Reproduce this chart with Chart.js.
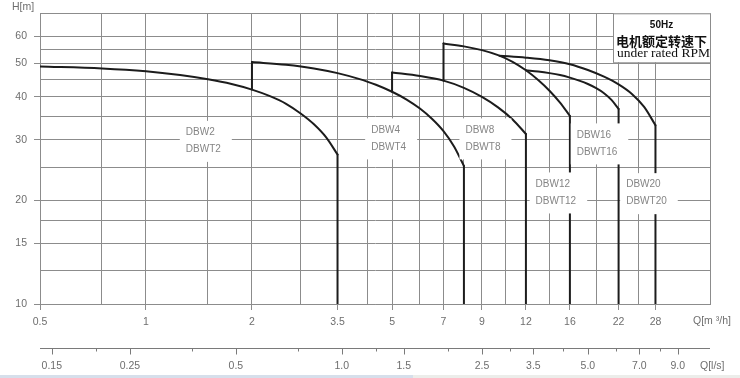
<!DOCTYPE html>
<html>
<head>
<meta charset="utf-8">
<script src="https://cdn.jsdelivr.net/npm/chart.js@4.4.0/dist/chart.umd.min.js"></script>
<style>
  html, body { margin: 0; padding: 0; background: #fff; }
  #wrap { width: 740px; height: 378px; }
</style>
</head>
<body>
<div id="wrap"><canvas id="chart" width="740" height="378"></canvas></div>
<script>
// axis values, Q in m3/h and H in m
const gridQ = [0.5, 0.75, 1, 1.5, 2, 2.75, 3.5, 4.25, 5, 6, 7, 8, 9, 10.5, 12, 14, 16, 19, 22, 25, 28, 40];
const labelQ = [0.5, 1, 2, 3.5, 5, 7, 9, 12, 16, 22, 28];
const gridH = [10, 12.5, 15, 17.5, 20, 25, 30, 35, 40, 45, 50, 55, 60, 70];
const labelH = [10, 15, 20, 30, 40, 50, 60];

// second flow axis in l/s
const lpsMajor = [0.15, 0.25, 0.5, 1.0, 1.5, 2.5, 3.5, 5.0, 7.0, 9.0];
const lpsMinor = [0.2, 0.375, 0.75, 1.25, 2.0, 3.0, 4.25, 6.0, 8.0];
const lpsToM3h = 3.6;

// pump curves
const dbw2Q = [0.5, 0.75, 1, 1.25, 1.5, 1.75, 2, 2.25, 2.5, 2.75, 3, 3.25, 3.5];
const dbw2H = [49, 48.4, 47.5, 46.3, 45, 43.6, 42, 40.2, 38.2, 35.8, 33.3, 30.5, 27.2];
const dbw4Q = [2, 2.5, 3, 3.5, 4, 4.5, 5, 5.5, 6, 6.5, 7, 7.5, 8];
const dbw4H = [50.5, 49.6, 48.4, 46.9, 45.2, 43.4, 41.4, 39.3, 37, 34.5, 31.8, 28.7, 25.2];
const dbw8Q = [5, 6, 7, 8, 9, 10, 11, 12];
const dbw8H = [47.1, 46, 44.6, 42.5, 40, 37.3, 34.4, 31.2];
const dbw12Q = [7, 8, 9, 10, 11, 12, 13, 14, 15, 16];
const dbw12H = [57.2, 56.1, 54.7, 52.9, 50.6, 47.8, 44.8, 41.7, 38.5, 35.2];
const dbw16Q = [12, 13, 14, 15, 16, 17, 18, 19, 20, 21, 22];
const dbw16H = [47.8, 47.4, 46.9, 46.3, 45.5, 44.6, 43.6, 42.4, 41, 39.2, 36.9];
const dbw20Q = [10.1, 12, 14, 16, 18, 20, 22, 24, 26, 28];
const dbw20H = [52.7, 52, 51.1, 49.8, 47.9, 45.8, 43.5, 40.8, 37.4, 33.1];

const models = ['DBW2', 'DBW4', 'DBW8', 'DBW12', 'DBW16', 'DBW20'];
const modelsT = ['DBWT2', 'DBWT4', 'DBWT8', 'DBWT12', 'DBWT16', 'DBWT20'];
const curveQ = [dbw2Q, dbw4Q, dbw8Q, dbw12Q, dbw16Q, dbw20Q];
const curveH = [dbw2H, dbw4H, dbw8H, dbw12H, dbw16H, dbw20H];
// H on the previous curve where the start riser begins
const riserBaseH = [null, 42, 41.4, 44.6, null, null];
const hMin = 10;

// where the model names sit (data units)
const tagQ = [1.455, 4.89, 9.06, 14.6, 19.1, 26.4];
const tagH = [29.8, 30.3, 30.3, 21.1, 29.3, 21.0];

const gridColor = '#8c8c8c';
const tickText = '#6e6e6e';
const curveColor = '#1c1c1c';
const tickFont = { family: 'Liberation Sans', size: 10.5 };

const datasets = [];
curveQ.forEach((qs, i) => {
  const hs = curveH[i];
  const last = qs.length - 1;
  datasets.push({
    data: qs.map((q, k) => ({ x: q, y: hs[k] })),
    cubicInterpolationMode: 'monotone'
  });
  if (riserBaseH[i] !== null) {
    datasets.push({ data: [{ x: qs[0], y: riserBaseH[i] }, { x: qs[0], y: hs[0] }] });
  }
  datasets.push({ data: [{ x: qs[last], y: hs[last] }, { x: qs[last], y: hMin }] });
});
datasets.forEach(d => {
  d.borderColor = curveColor;
  d.borderWidth = 2;
  d.pointRadius = 0;
  d.fill = false;
  d.borderCapStyle = 'round';
  d.borderJoinStyle = 'round';
});

const extras = {
  id: 'extras',
  afterDatasetsDraw(chart) {
    const { ctx, chartArea: a, scales: { x, y } } = chart;
    ctx.save();

    // model labels on white patches
    ctx.font = '10px "Liberation Sans"';
    ctx.textBaseline = 'middle';
    ctx.textAlign = 'left';
    models.forEach((m, i) => {
      const cx = x.getPixelForValue(tagQ[i]);
      const cy = y.getPixelForValue(tagH[i]);
      const w = Math.max(ctx.measureText(m).width, ctx.measureText(modelsT[i]).width);
      const left = cx - w / 2;
      ctx.fillStyle = '#fff';
      ctx.fillRect(left - 6, cy - 20, w + 17, 41);
      ctx.fillStyle = '#858585';
      ctx.fillText(m, left, cy - 8.5);
      ctx.fillText(modelsT[i], left, cy + 8.5);
    });

    // note box, top right
    const bw = 97, bh = 49;
    const bx = a.right - bw, by = a.top;
    ctx.fillStyle = '#fff';
    ctx.fillRect(bx, by, bw, bh);
    ctx.strokeStyle = gridColor;
    ctx.lineWidth = 1;
    ctx.beginPath();
    ctx.moveTo(bx + 0.5, by);
    ctx.lineTo(bx + 0.5, by + bh + 0.5);
    ctx.lineTo(a.right, by + bh + 0.5);
    ctx.moveTo(bx, by + 0.5);
    ctx.lineTo(a.right + 0.5, by + 0.5);
    ctx.lineTo(a.right + 0.5, by + bh);
    ctx.stroke();
    ctx.fillStyle = '#111';
    ctx.textAlign = 'center';
    ctx.font = 'bold 10px "Liberation Sans"';
    ctx.fillText('50Hz', bx + bw / 2, by + 12);
    ctx.font = 'bold 13px "Noto Sans CJK SC"';
    ctx.fillText('电机额定转速下', bx + bw / 2, by + 27.5);
    ctx.font = '13.5px "Liberation Serif"';
    ctx.fillText('under rated RPM', bx + bw / 2 + 2, by + 40.5);

    // axis names
    ctx.fillStyle = tickText;
    ctx.font = '10.5px "Liberation Sans"';
    ctx.textAlign = 'left';
    ctx.fillText('H[m]', 12, 7.5);
    ctx.fillText('Q[m ³/h]', 693, 321.5);

    // l/s axis
    const ly = 348.5;
    ctx.strokeStyle = '#7a7a7a';
    ctx.beginPath();
    ctx.moveTo(a.left, ly);
    ctx.lineTo(a.right, ly);
    lpsMajor.forEach(v => {
      const px = Math.round(x.getPixelForValue(v * lpsToM3h)) + 0.5;
      ctx.moveTo(px, ly);
      ctx.lineTo(px, ly + 6);
    });
    lpsMinor.forEach(v => {
      const px = Math.round(x.getPixelForValue(v * lpsToM3h)) + 0.5;
      ctx.moveTo(px, ly);
      ctx.lineTo(px, ly + 3);
    });
    ctx.stroke();
    ctx.textAlign = 'center';
    lpsMajor.forEach(v => {
      const px = x.getPixelForValue(v * lpsToM3h);
      ctx.fillText(v < 0.5 ? v.toFixed(2) : v.toFixed(1), px, 366);
    });
    ctx.textAlign = 'left';
    ctx.fillText('Q[l/s]', 700, 366);

    // strip at the very bottom
    ctx.fillStyle = '#d6dfeb';
    ctx.fillRect(0, 375, 413, 3);
    ctx.fillStyle = '#ecedea';
    ctx.fillRect(413, 375, 327, 3);
    ctx.restore();
  }
};

const tickMark = list => c => (c.tick && list.includes(c.tick.value)) ? gridColor : 'rgba(0,0,0,0)';

new Chart(document.getElementById('chart'), {
  type: 'line',
  data: { datasets },
  plugins: [extras],
  options: {
    responsive: false,
    devicePixelRatio: 1,
    animation: false,
    layout: { padding: { top: 7, right: 30, left: 0, bottom: 0 } },
    plugins: { legend: { display: false }, tooltip: { enabled: false } },
    scales: {
      x: {
        type: 'logarithmic',
        min: 0.5,
        max: 40,
        bounds: 'data',
        afterBuildTicks: s => { s.ticks = gridQ.map(v => ({ value: v })); },
        afterFit: s => { s.height = 74; },
        ticks: {
          autoSkip: false,
          maxRotation: 0,
          minRotation: 0,
          padding: 6,
          color: tickText,
          font: tickFont,
          callback: v => labelQ.includes(v) ? String(v) : ''
        },
        grid: { color: gridColor, lineWidth: 1, tickLength: 6, tickColor: tickMark(labelQ) },
        border: { color: gridColor }
      },
      y: {
        type: 'logarithmic',
        min: 10,
        max: 70,
        bounds: 'data',
        afterBuildTicks: s => { s.ticks = gridH.map(v => ({ value: v })); },
        afterFit: s => { s.width = 40; },
        ticks: {
          autoSkip: false,
          padding: 7,
          color: tickText,
          font: tickFont,
          callback: v => labelH.includes(v) ? String(v) : ''
        },
        grid: { color: gridColor, lineWidth: 1, tickLength: 6, tickColor: tickMark(labelH) },
        border: { color: gridColor }
      }
    }
  }
});
</script>
</body>
</html>
